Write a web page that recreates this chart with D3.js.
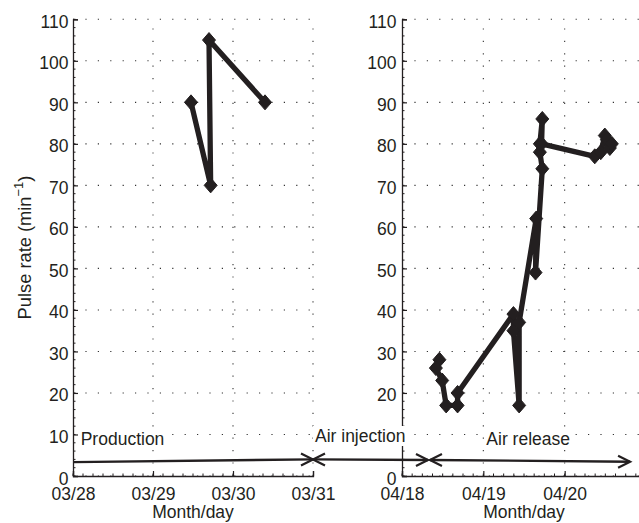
<!DOCTYPE html>
<html><head><meta charset="utf-8">
<script src="https://cdn.jsdelivr.net/npm/d3@7"></script>
<style>
html,body{margin:0;padding:0;background:#fff;}
svg{display:block;}
text{font-family:"Liberation Sans",Arial,Helvetica,sans-serif;fill:#231f20;}
</style></head>
<body><svg id="c" width="639" height="523"></svg>
<script>
// ---- data ----
const yTicks = [0,10,20,30,40,50,60,70,80,90,100,110];
const leftYTickLabels = [0,10,20,30,40,50,60,70,80,90,100,110];
const rightYTickLabels = [0,20,30,40,50,60,70,80,90,100,110]; // "10" is hidden behind the "Air injection" label
const leftDomain = ["03/28 00:00","03/31 00:00"];
const rightDomain = ["04/18 00:00","04/21 00:00"];
const leftTickLabels = ["03/28","03/29","03/30","03/31"];
const rightTickLabels = ["04/18","04/19","04/20"];
const leftTimes = ["03/29 11:24","03/29 17:18","03/29 16:48","03/30 09:36"];
const leftPulse = [90,70,105,90];
const rightTimes = ["04/18 11:02","04/18 10:00","04/18 11:51","04/18 13:02","04/18 16:24","04/18 16:24",
  "04/19 08:53","04/19 08:53","04/19 10:34","04/19 10:34","04/19 15:36","04/19 15:24","04/19 17:24",
  "04/19 16:41","04/19 16:41","04/19 17:24","04/19 17:11","04/20 08:53","04/20 10:39","04/20 11:51",
  "04/20 12:27","04/20 13:20","04/20 13:55"];
const rightPulse = [28,26,23,17,17,20,39,35,17,37,62,49,74,78,80,86,80,77,78,82,81,79,80];
const phaseNames = ["Production","Air injection","Air release"];
const phaseStart = ["03/28 00:00","03/31 00:00","04/18 08:15"];
const phaseEnd   = ["03/31 00:00","04/18 07:40","04/20 19:18"];
const phaseStartLevel = [3.35,4.0,3.86];
const phaseEndLevel   = [4.0,3.86,3.45];

// ---- setup ----
const parse = d3.timeParse("%m/%d %H:%M");
const svg = d3.select("#c");
const ink = "#231f20";
const y = d3.scaleLinear().domain([0,110]).range([476,19.3]);
const xL = d3.scaleTime().domain(leftDomain.map(parse)).range([73,313]);
const xR = d3.scaleTime().domain(rightDomain.map(parse)).range([402,646]);
const fs = 17.5;

function panel(x, times, pulse, tickLabels, yLabels, yLabelRight){
  const g = svg.append("g");
  const [x0,x1] = x.range();
  const days = d3.timeDay.range(x.domain()[0], d3.timeDay.offset(x.domain()[1],1));
  // grid
  g.append("g").selectAll("line").data(yTicks).join("line")
    .attr("x1",x0).attr("x2",x1).attr("y1",d=>y(d)).attr("y2",d=>y(d))
    .attr("stroke","#333").attr("stroke-width",1.1).attr("stroke-dasharray","1.2,11.2");
  g.append("g").selectAll("line").data(days.slice(1)).join("line")
    .attr("x1",d=>x(d)).attr("x2",d=>x(d)).attr("y1",y(0)).attr("y2",y(110))
    .attr("stroke","#333").attr("stroke-width",1.1).attr("stroke-dasharray","1.2,11.2");
  // x axis
  const xa = g.append("g").attr("transform",`translate(0,${y(0)})`)
    .call(d3.axisBottom(x).ticks(d3.timeDay.every(1)).tickSize(-5).tickFormat(d3.timeFormat("%m/%d")));
  xa.select(".domain").attr("stroke",ink).attr("stroke-width",1.3);
  xa.selectAll(".tick line").attr("stroke",ink).attr("stroke-width",1.2);
  xa.selectAll(".tick text").attr("y",24).attr("dy",0).attr("font-size",fs).attr("fill",ink)
    .attr("font-family",'"Liberation Sans",Arial,sans-serif')
    .text(function(d){ const t=d3.timeFormat("%m/%d")(d); return tickLabels.includes(t)?t:""; });
  // minor x ticks
  g.append("g").selectAll("line").data(d3.timeHour.every(3).range(x.domain()[0], x.domain()[1]))
    .join("line").attr("x1",d=>x(d)).attr("x2",d=>x(d)).attr("y1",y(0)).attr("y2",y(0)-2.5)
    .attr("stroke",ink).attr("stroke-width",1);
  // y axis
  const ya = g.append("g").attr("transform",`translate(${x0},0)`)
    .call(d3.axisLeft(y).tickValues(yTicks).tickSize(-5)
      .tickFormat(d=>yLabels.includes(d)?String(d):""));
  ya.select(".domain").attr("stroke",ink).attr("stroke-width",1.3);
  ya.selectAll(".tick line").attr("stroke",ink).attr("stroke-width",1.2);
  ya.selectAll(".tick text").attr("x",-(x0-yLabelRight)).attr("dy",0).attr("y",8)
    .attr("font-size",fs).attr("fill",ink).attr("font-family",'"Liberation Sans",Arial,sans-serif');
  // minor y ticks
  g.append("g").selectAll("line").data(d3.range(0,111,2)).join("line")
    .attr("x1",x0).attr("x2",x0+2.5).attr("y1",d=>y(d)).attr("y2",d=>y(d))
    .attr("stroke",ink).attr("stroke-width",1);
  // x label
  g.append("text").attr("x",(x0+x1)/2).attr("y",518).attr("text-anchor","middle")
    .attr("font-size",fs).text("Month/day");
  // data line
  const pts = times.map((t,i)=>[x(parse(t)), y(pulse[i])]);
  g.append("path").attr("d",d3.line()(pts)).attr("fill","none").attr("stroke",ink)
    .attr("stroke-width",5.3).attr("stroke-linejoin","round");
  g.append("g").selectAll("path").data(pts).join("path")
    .attr("d",d=>`M${d[0]},${d[1]-7.5}L${d[0]+6.5},${d[1]}L${d[0]},${d[1]+7.5}L${d[0]-6.5},${d[1]}Z`)
    .attr("fill",ink).attr("stroke",ink).attr("stroke-width",1);
}
panel(xL, leftTimes, leftPulse, leftTickLabels, leftYTickLabels, 68.5);
panel(xR, rightTimes, rightPulse, rightTickLabels, rightYTickLabels, 396.5);

// y label
svg.append("text").attr("transform","translate(31,247.5) rotate(-90)").attr("text-anchor","middle")
  .attr("font-size",18.3)
  .call(t=>{ t.append("tspan").text("Pulse rate (min");
             t.append("tspan").attr("font-size",13).attr("dy",-8).text("\u22121");
             t.append("tspan").attr("dy",8).text(")"); });

// phase arrows
function xAny(s){ const d=parse(s); return d <= xL.domain()[1] ? xL(d) : xR(d); }
function head(g, px, py, dir){
  g.append("path").attr("d",`M${px-dir*12},${py-6}L${px},${py}L${px-dir*12},${py+6}`)
    .attr("fill","none").attr("stroke",ink).attr("stroke-width",2.2);
}
const ag = svg.append("g");
phaseNames.forEach((n,i)=>{
  const xa = xAny(phaseStart[i]), xb = xAny(phaseEnd[i]);
  const ya0 = y(phaseStartLevel[i]), yb = y(phaseEndLevel[i]);
  ag.append("line").attr("x1",xa).attr("y1",ya0).attr("x2",xb).attr("y2",yb)
    .attr("stroke",ink).attr("stroke-width",2.4);
  head(ag, xb, yb, 1);
  if(i>0) head(ag, xa, ya0, -1);
});
// phase labels with white boxes
const labelPos = [[xL(parse(phaseStart[0]))+7.7,445],[xL(parse(phaseStart[1]))+2,442],[xR(parse("04/19 00:00"))+3,445]];
phaseNames.forEach((n,i)=>{
  const lg = svg.append("g");
  const r = lg.append("rect").attr("fill","#fff");
  const t = lg.append("text").attr("x",labelPos[i][0]).attr("y",labelPos[i][1]).attr("font-size",fs).text(n);
  const b = t.node().getBBox();
  r.attr("x",b.x-2).attr("y",b.y).attr("width",b.width+4).attr("height",b.height);
});
</script></body></html>
